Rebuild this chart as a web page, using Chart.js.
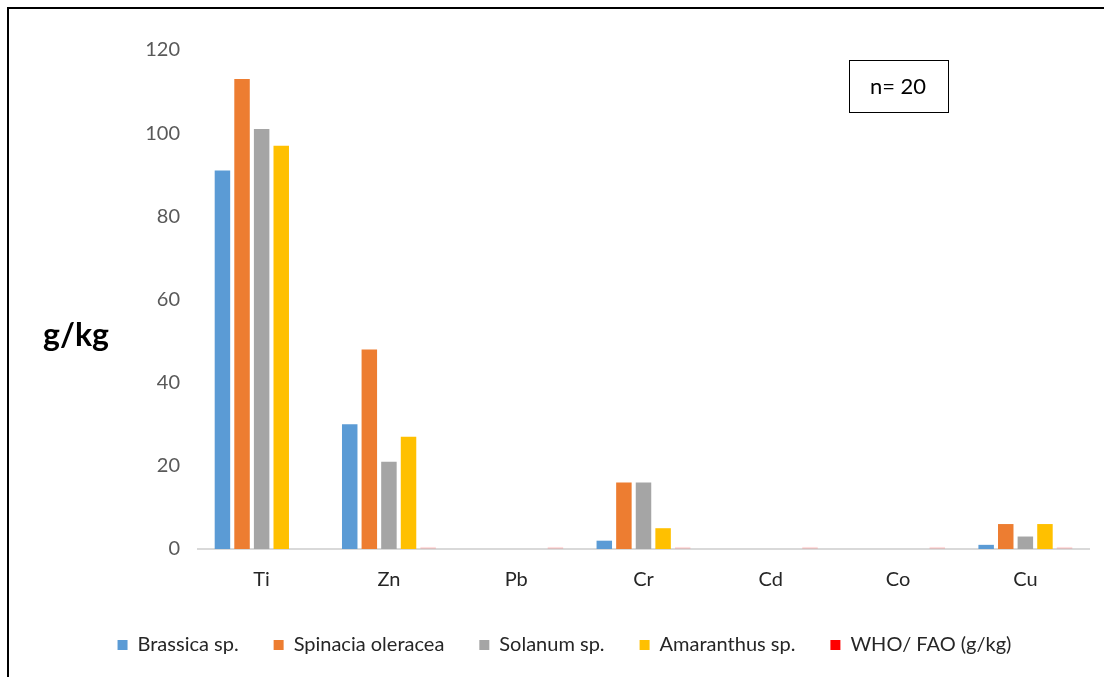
<!DOCTYPE html>
<html>
<head>
<meta charset="utf-8">
<script src="https://cdn.jsdelivr.net/npm/chart.js@4/dist/chart.umd.min.js"></script>
<style>
  html, body { margin: 0; padding: 0; background: #fff; }
  #wrap { width: 1104px; height: 677px; position: relative; }
  canvas { display: block; }
</style>
</head>
<body>
<div id="wrap"><canvas id="c" width="1104" height="677"></canvas></div>
<script>
// Heavy metal concentrations in leafy vegetables (g/kg)
const elements = ['Ti', 'Zn', 'Pb', 'Cr', 'Cd', 'Co', 'Cu'];
const brassica   = [91, 30, 0, 2, 0, 0, 1];
const spinacia   = [113, 48, 0, 16, 0, 0, 6];
const solanum    = [101, 21, 0, 16, 0, 0, 3];
const amaranthus = [97, 27, 0, 5, 0, 0, 6];
const whoFao     = [null, 0.5, 0.5, 0.5, 0.5, 0.5, 0.5];
const yTicks     = [0, 20, 40, 60, 80, 100, 120];
const sampleNote = 'n= 20';
const unitLabel  = 'g/kg';

const FONT = 'Lato, "Open Sans", sans-serif';

// page frame, unit label and sample-size box
const extras = {
  id: 'extras',
  afterDraw(chart) {
    const ctx = chart.ctx;
    ctx.save();
    // frame lines (top and left)
    ctx.strokeStyle = '#000';
    ctx.lineWidth = 2;
    ctx.beginPath();
    ctx.moveTo(8, 677);
    ctx.lineTo(8, 8);
    ctx.lineTo(1104, 8);
    ctx.stroke();
    // unit label
    ctx.fillStyle = '#000';
    ctx.font = 'bold 32px ' + FONT;
    ctx.textAlign = 'center';
    ctx.textBaseline = 'middle';
    ctx.fillText(unitLabel, 76, 336);
    // sample size box
    ctx.lineWidth = 1;
    ctx.strokeStyle = '#000';
    ctx.strokeRect(849.5, 60.5, 99, 52);
    ctx.font = '22px ' + FONT;
    ctx.fillText(sampleNote, 898, 87);
    ctx.restore();
  }
};

const ds = (label, data, color) => ({
  label, data,
  backgroundColor: color,
  borderWidth: 0,
  barPercentage: 0.79,
  categoryPercentage: 0.77
});

new Chart(document.getElementById('c'), {
  type: 'bar',
  data: {
    labels: elements,
    datasets: [
      ds('Brassica sp.', brassica, '#5B9BD5'),
      ds('Spinacia oleracea', spinacia, '#ED7D31'),
      ds('Solanum sp.', solanum, '#A5A5A5'),
      ds('Amaranthus sp.', amaranthus, '#FFC000'),
      ds('WHO/ FAO (g/kg)', whoFao, 'rgba(255,0,0,0.13)')
    ]
  },
  options: {
    responsive: false,
    animation: false,
    layout: { padding: { left: 40, right: 15, top: 50, bottom: 12 } },
    plugins: {
      tooltip: { enabled: false },
      legend: {
        position: 'bottom',
        labels: {
          font: { family: FONT, size: 20 },
          color: '#262626',
          boxWidth: 10,
          boxHeight: 10,
          padding: 35,
          generateLabels(chart) {
            const items = Chart.defaults.plugins.legend.labels.generateLabels(chart);
            items.forEach(it => {
              if (it.datasetIndex === 4) { it.fillStyle = '#FF0000'; }
              it.lineWidth = 0;
              it.strokeStyle = 'transparent';
            });
            return items;
          }
        }
      }
    },
    scales: {
      x: {
        grid: { display: false, drawTicks: false },
        border: { display: true, color: '#D9D9D9', width: 2 },
        ticks: { font: { family: FONT, size: 20 }, color: '#262626', padding: 19 },
        afterFit(s) { s.height = 51; }
      },
      y: {
        min: 0, max: 120,
        afterBuildTicks(s) { s.ticks = yTicks.map(v => ({ value: v })); },
        grid: { display: false, drawTicks: false },
        border: { display: false },
        ticks: { font: { family: FONT, size: 20 }, color: '#595959', padding: 18 },
        afterFit(s) { s.width = 158; }
      }
    }
  },
  plugins: [extras]
});
</script>
</body>
</html>
